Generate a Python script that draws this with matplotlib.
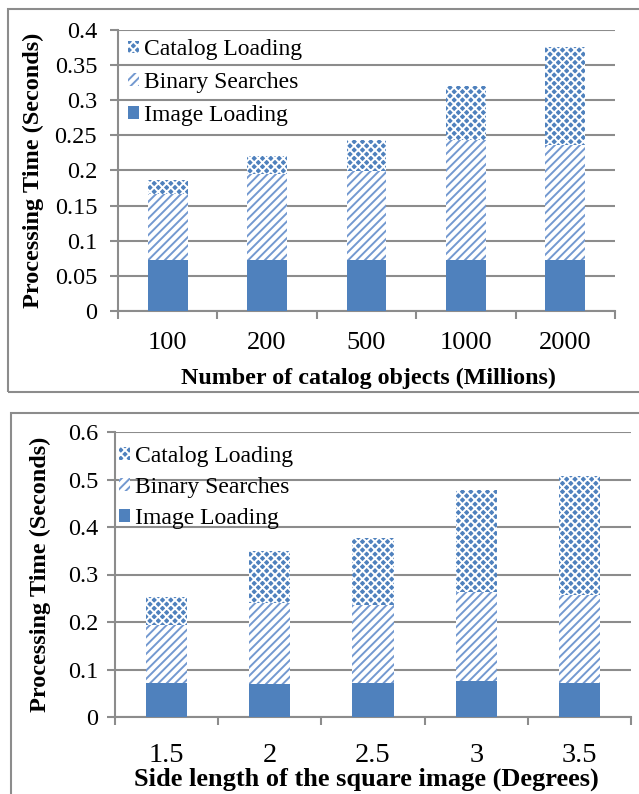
import matplotlib
matplotlib.use("Agg")
import matplotlib.pyplot as plt
from matplotlib.patches import Rectangle, Patch
import numpy as np

plt.rcParams['font.family'] = ['Liberation Serif', 'DejaVu Serif']
plt.rcParams['hatch.linewidth'] = 1.4

# Top panel data
top_categories = ["100", "200", "500", "1000", "2000"]
top_image = [0.072, 0.073, 0.072, 0.073, 0.072]
top_binary = [0.095, 0.122, 0.128, 0.170, 0.164]
top_catalog = [0.020, 0.026, 0.043, 0.077, 0.140]
top_yticks = [0, 0.05, 0.1, 0.15, 0.2, 0.25, 0.3, 0.35, 0.4]
top_yticklabels = ["0", "0.05", "0.1", "0.15", "0.2", "0.25", "0.3", "0.35", "0.4"]

# Bottom panel data
bot_categories = ["1.5", "2", "2.5", "3", "3.5"]
bot_image = [0.072, 0.070, 0.072, 0.075, 0.072]
bot_binary = [0.121, 0.170, 0.164, 0.188, 0.184]
bot_catalog = [0.060, 0.109, 0.140, 0.215, 0.252]
bot_yticks = [0, 0.1, 0.2, 0.3, 0.4, 0.5, 0.6]
bot_yticklabels = ["0", "0.1", "0.2", "0.3", "0.4", "0.5", "0.6"]

series_names = ["Image Loading", "Binary Searches", "Catalog Loading"]

BLUE = '#4F81BD'
STRIPE = '#7399D0'
CAT_FACE = '#4F81BD'
GRID = '#8C8C8C'

W, H = 639, 794
fig = plt.figure(figsize=(W / 100, H / 100), dpi=100)


def draw_panel(rect, cats, img, binr, cat, yticks, yticklabels, ylim,
               xlabel, xtick_size, xpad, ypad, xlab_size, ylab_x, xlab_pos,
               leg_anchor, leg_spacing):
    ax = fig.add_axes(rect)
    x = np.arange(len(cats))
    w = 0.4
    img = np.array(img)
    binr = np.array(binr)
    cat = np.array(cat)
    ax.bar(x, img, w, color=BLUE, linewidth=0, zorder=3)
    ax.bar(x, binr, w, bottom=img, facecolor='white', edgecolor=STRIPE,
           hatch='////', linewidth=0, zorder=3)
    ax.bar(x, cat, w, bottom=img + binr, facecolor=CAT_FACE, edgecolor='white',
           hatch='xxxx', linewidth=0, zorder=3)
    ax.set_xlim(-0.5, len(cats) - 0.5)
    ax.set_ylim(*ylim)
    ax.set_yticks(yticks)
    ax.set_yticklabels(yticklabels, fontsize=17.5)
    ax.set_xticks(x)
    ax.set_xticklabels(cats, fontsize=xtick_size)
    ax.set_xticks(np.arange(len(cats) + 1) - 0.5, minor=True)
    ax.tick_params(axis='x', which='major', length=0, pad=xpad)
    ax.tick_params(axis='x', which='minor', length=6, width=1.5, color=GRID, direction='out')
    ax.tick_params(axis='y', which='major', length=6, width=1.5, color=GRID, pad=ypad)
    ax.grid(axis='y', color=GRID, linewidth=1.5, zorder=0)
    ax.set_axisbelow(True)
    for s in ['top', 'right']:
        ax.spines[s].set_visible(False)
    for s in ['left', 'bottom']:
        ax.spines[s].set_color(GRID)
        ax.spines[s].set_linewidth(1.5)
    ax.set_ylabel("Processing Time (Seconds)", fontsize=17.5, fontweight='bold', va='center')
    ax.yaxis.set_label_coords(ylab_x, 0.5)
    ax.set_xlabel(xlabel, fontsize=xlab_size, fontweight='bold', va='center')
    ax.xaxis.set_label_coords(*xlab_pos)
    handles = [
        Patch(facecolor=CAT_FACE, edgecolor='white', hatch='xxxx', linewidth=0),
        Patch(facecolor='white', edgecolor=STRIPE, hatch='////', linewidth=0),
        Patch(facecolor=BLUE, linewidth=0),
    ]
    labels = [series_names[2], series_names[1], series_names[0]]
    ax.legend(handles, labels, loc='upper left', bbox_to_anchor=leg_anchor,
              frameon=False, fontsize=17, handlelength=0.45, handleheight=0.45,
              handletextpad=0.22, labelspacing=leg_spacing, borderaxespad=0)
    return ax


# Top panel
draw_panel([118 / W, 1 - 311 / H, 497 / W, 281 / H], top_categories, top_image,
           top_binary, top_catalog, top_yticks, top_yticklabels, (0, 0.4),
           "Number of catalog objects (Millions)", 19, 15, 9, 17.3,
           (33 - 118) / 497, (0.503, (311 - 378) / 281), (0.002, 1.0), 0.5)

# Bottom panel
draw_panel([115 / W, 1 - 717 / H, 516 / W, 285 / H], bot_categories, bot_image,
           bot_binary, bot_catalog, bot_yticks, bot_yticklabels, (0, 0.6),
           "Side length of the square image (Degrees)", 20.5, 19, 6, 19,
           (40 - 115) / 516, (0.488, (717 - 779) / 285), (-0.01, 0.985), 0.43)

# Panel frames
fig.patches.append(Rectangle((8 / W, 1 - 392 / H), 700 / W, 383 / H, transform=fig.transFigure,
                             fill=False, edgecolor=GRID, linewidth=1.5))
fig.patches.append(Rectangle((11 / W, -50 / H), 700 / W, (794 - 413 + 50) / H,
                             transform=fig.transFigure, fill=False, edgecolor=GRID, linewidth=1.5))

fig.savefig("out.png", dpi=100)
